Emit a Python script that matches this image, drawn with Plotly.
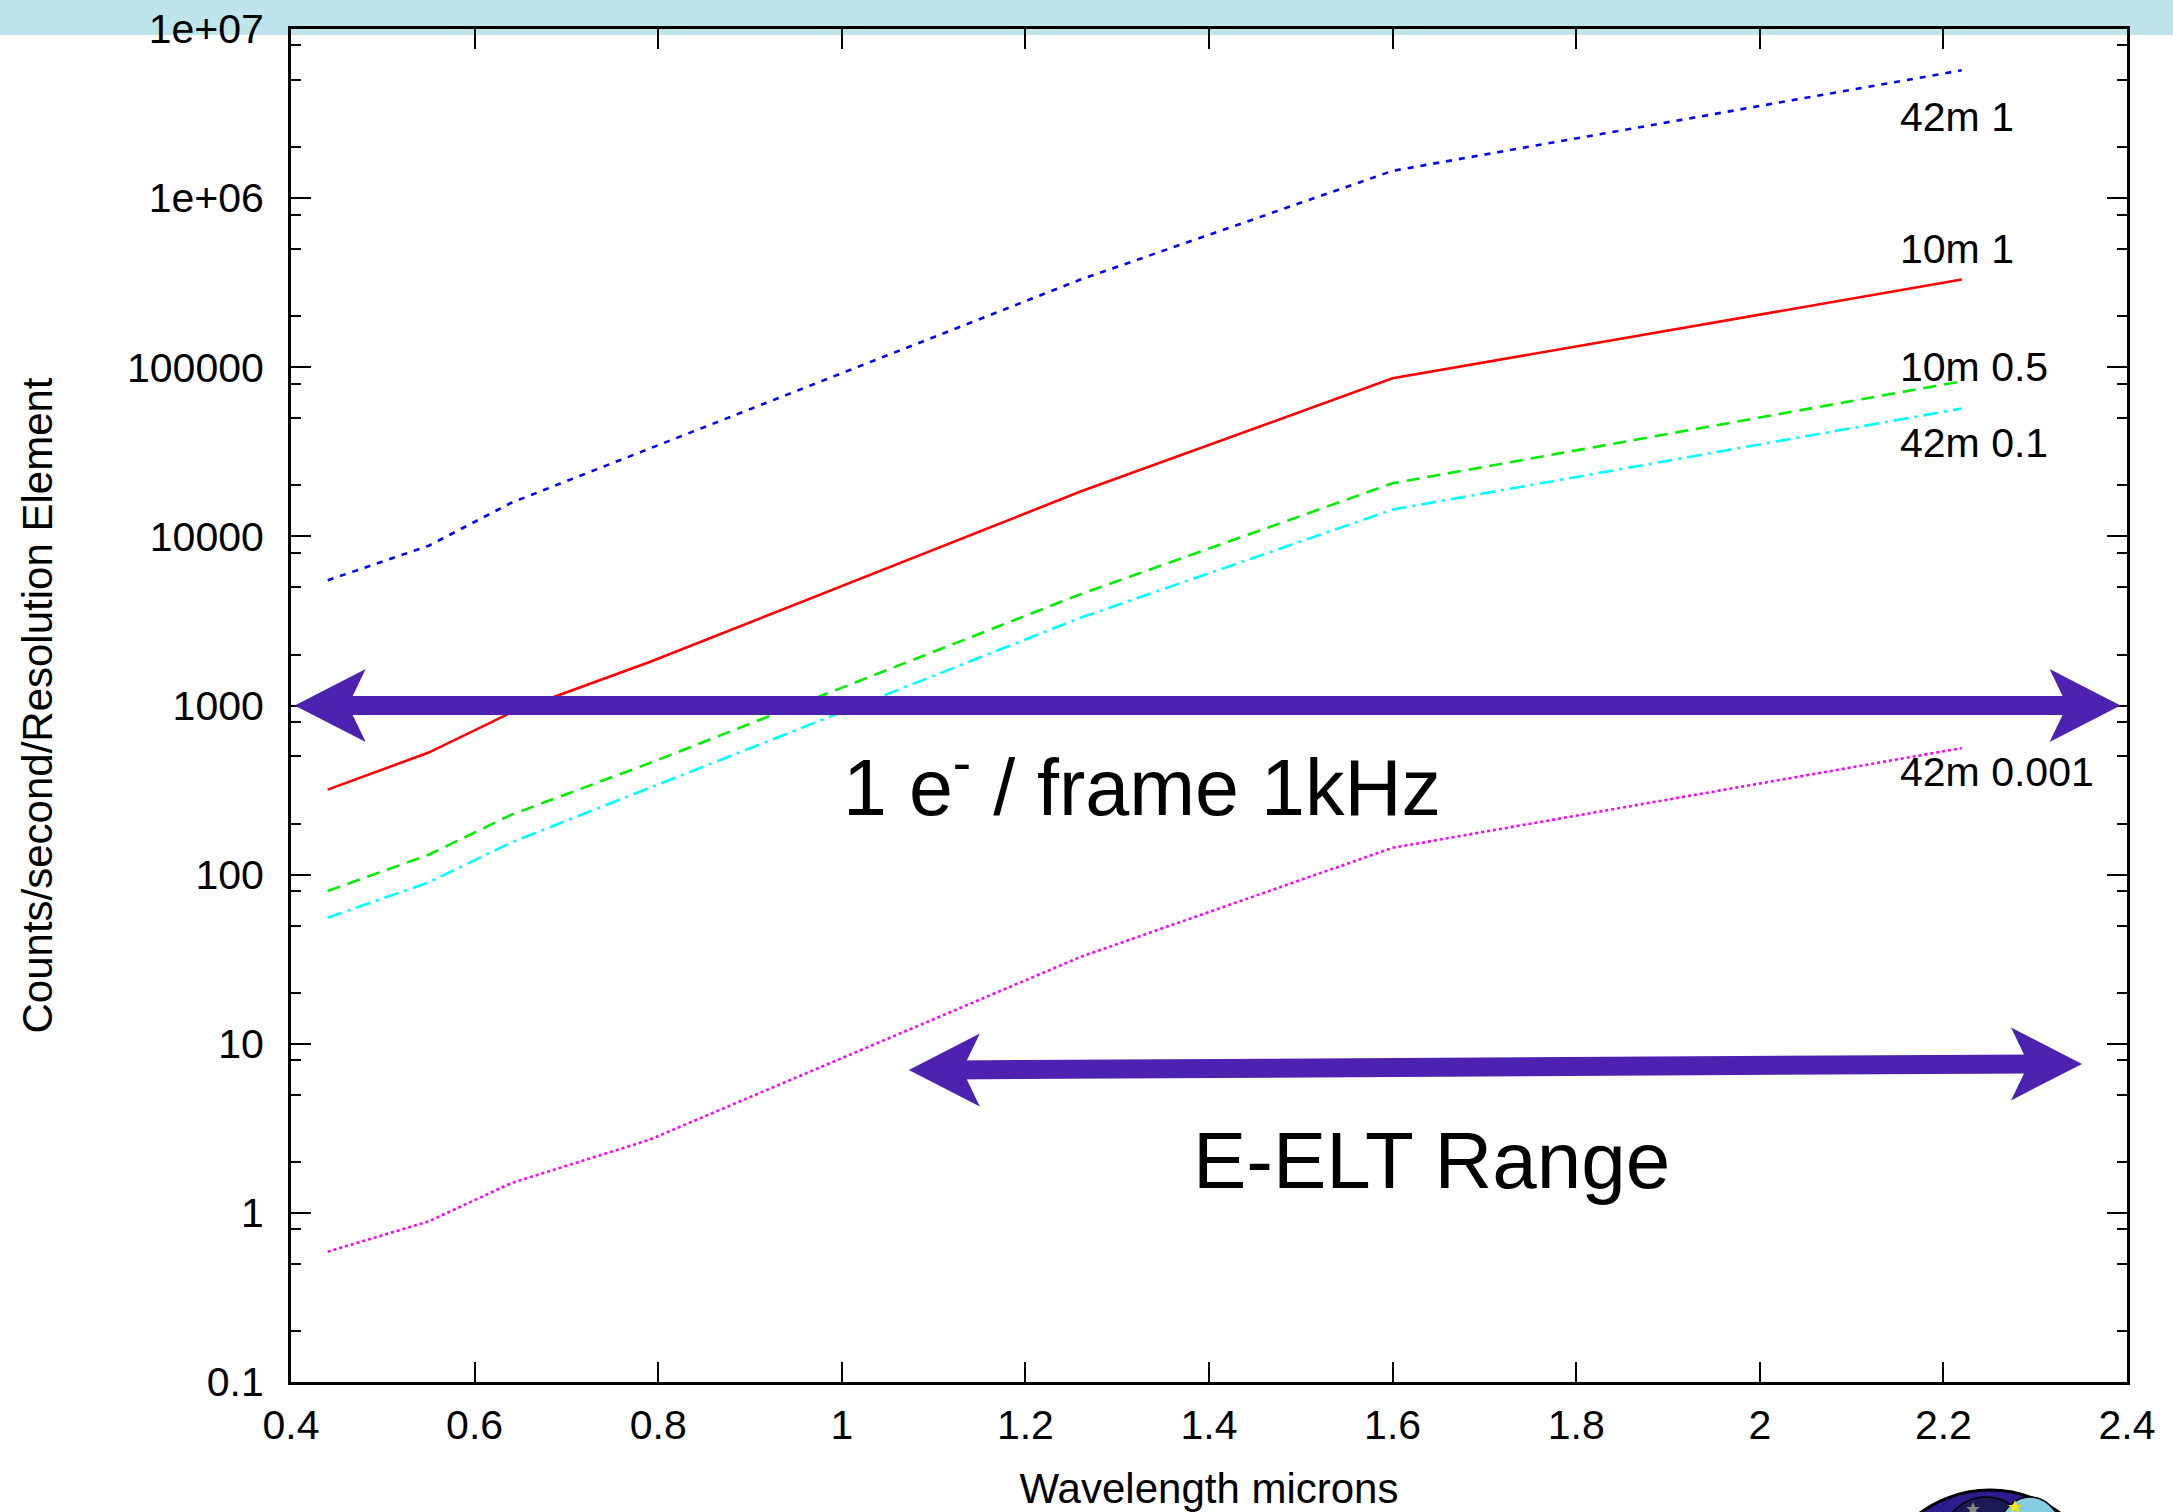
import math
import plotly.graph_objects as go

# ---- data -------------------------------------------------------------
WAVELENGTH_UM = [0.44, 0.55, 0.64, 0.79, 1.26, 1.60, 2.22]

COUNTS_42M_1 = [5500, 8800, 15800, 33000, 330000, 1450000, 5700000]
COUNTS_10M_1 = [318, 527, 910, 1800, 18400, 86000, 330000]
COUNTS_10M_05 = [80, 131, 226, 455, 4550, 20600, 82600]
COUNTS_42M_01 = [55.7, 90, 155, 325, 3300, 14400, 57000]
COUNTS_42M_0001 = [0.59, 0.89, 1.5, 2.7, 32.6, 144, 560]

SERIES_NAMES = ["42m 1", "10m 1", "10m 0.5", "42m 0.1", "42m 0.001"]
LABEL_LEVELS = [3.0e6, 5.0e5, 1.01e5, 3.55e4, 406]   # counts where each tag sits
LABEL_WAVELENGTH = 2.150

X_TICKS = [0.4, 0.6, 0.8, 1.0, 1.2, 1.4, 1.6, 1.8, 2.0, 2.2, 2.4]
X_TICK_TEXT = ["0.4", "0.6", "0.8", "1", "1.2", "1.4", "1.6", "1.8", "2", "2.2", "2.4"]
Y_TICKS = [0.1, 1, 10, 100, 1000, 1e4, 1e5, 1e6, 1e7]
Y_TICK_TEXT = ["0.1", "1", "10", "100", "1000", "10000", "100000", "1e+06", "1e+07"]
Y_MINOR = [m * 10.0 ** k for k in range(-1, 7) for m in (2, 5, 8)]

FRAME_RATE_COUNTS = 1000            # 1 e- per frame read at 1 kHz
FRAME_ARROW_SPAN = [0.404, 2.393]
ELT_RANGE_UM = [1.073, 2.351]
ELT_ARROW_LEVEL = [7.0, 7.6]

# ---- page geometry ----------------------------------------------------
W, H = 2173, 1512
M_L, M_R, M_T, M_B = 291, 46, 29, 130
PLOT_W = W - M_L - M_R
PLOT_H = H - M_T - M_B


def paper_x(px):
    return (px - M_L) / PLOT_W


def paper_y(py):
    return (H - M_B - py) / PLOT_H


FONT = "Liberation Sans, Arial, Helvetica, sans-serif"
ARROW_COLOR = "#4d22b0"

styles = [
    dict(color="#0000ff", dash="6px,7px"),
    dict(color="#ff0000", dash="solid"),
    dict(color="#00ee00", dash="13px,8px"),
    dict(color="#00ffff", dash="15px,6px,3px,6px"),
    dict(color="#ff00ff", dash="3px,3px"),
]
series = [COUNTS_42M_1, COUNTS_10M_1, COUNTS_10M_05, COUNTS_42M_01, COUNTS_42M_0001]

fig = go.Figure()
for name, ys, st in zip(SERIES_NAMES, series, styles):
    fig.add_trace(go.Scatter(
        x=WAVELENGTH_UM, y=ys, mode="lines", name=name,
        line=dict(color=st["color"], dash=st["dash"], width=2.6),
        showlegend=False, hoverinfo="skip",
    ))

annotations = []
for name, lvl in zip(SERIES_NAMES, LABEL_LEVELS):
    annotations.append(dict(
        x=LABEL_WAVELENGTH, y=math.log10(lvl), xref="x", yref="y",
        text=name, showarrow=False, xanchor="left", yanchor="middle",
        font=dict(family=FONT, size=41, color="black"),
    ))

annotations.append(dict(
    x=1.327, y=2.548, xref="x", yref="y",
    text="1 e<sup>-</sup> / frame 1kHz", showarrow=False,
    xanchor="center", yanchor="middle",
    font=dict(family=FONT, size=79, color="black"),
))
annotations.append(dict(
    x=1.642, y=0.308, xref="x", yref="y",
    text="E-ELT Range", showarrow=False,
    xanchor="center", yanchor="middle",
    font=dict(family=FONT, size=80, color="black"),
))

# ---- double-headed arrows ---------------------------------------------
HEAD_LEFT = "M0,0 L71,36.5 L58,9.5 L58,-9.5 L71,-36.5 Z"
HEAD_RIGHT = "M0,0 L-71,36.5 L-58,9.5 L-58,-9.5 L-71,-36.5 Z"


def double_arrow(x0, x1, y0, y1):
    inset = 0.05
    return [
        dict(type="line", xref="x", yref="y", x0=x0 + inset, x1=x1 - inset,
             y0=y0, y1=y1, line=dict(color=ARROW_COLOR, width=19)),
        dict(type="path", xref="x", yref="y", xsizemode="pixel", ysizemode="pixel",
             xanchor=x0, yanchor=y0, path=HEAD_LEFT,
             fillcolor=ARROW_COLOR, line=dict(width=0)),
        dict(type="path", xref="x", yref="y", xsizemode="pixel", ysizemode="pixel",
             xanchor=x1, yanchor=y1, path=HEAD_RIGHT,
             fillcolor=ARROW_COLOR, line=dict(width=0)),
    ]


shapes = []
# light-blue header band across the top of the page
shapes.append(dict(type="rect", xref="paper", yref="paper", layer="below",
                   x0=paper_x(0), x1=paper_x(W), y0=paper_y(35), y1=paper_y(0),
                   fillcolor="#bfe5ec", line=dict(width=0)))
shapes += double_arrow(FRAME_ARROW_SPAN[0], FRAME_ARROW_SPAN[1],
                       FRAME_RATE_COUNTS, FRAME_RATE_COUNTS)
shapes += double_arrow(ELT_RANGE_UM[0], ELT_RANGE_UM[1],
                       ELT_ARROW_LEVEL[0], ELT_ARROW_LEVEL[1])

# badge peeking in at the bottom-right corner
cx, cy, r = 1990, 1608, 118
shapes.append(dict(type="circle", xref="paper", yref="paper",
                   x0=paper_x(cx - r), x1=paper_x(cx + r),
                   y0=paper_y(cy + r), y1=paper_y(cy - r),
                   fillcolor="#2b1c8f", line=dict(color="black", width=3)))
shapes.append(dict(type="circle", xref="paper", yref="paper",
                   x0=paper_x(1932), x1=paper_x(2040),
                   y0=paper_y(1640), y1=paper_y(1497),
                   fillcolor="#1b1a55", line=dict(color="black", width=1.5)))
shapes.append(dict(type="circle", xref="paper", yref="paper",
                   x0=paper_x(1988), x1=paper_x(2072),
                   y0=paper_y(1640), y1=paper_y(1497),
                   fillcolor="#86cde3", line=dict(color="black", width=1.5)))
STAR = "M0,7 L2,2 L7,2 L3,-1 L4.5,-6 L0,-3 L-4.5,-6 L-3,-1 L-7,2 L-2,2 Z"
for sx, sy, col in [(1973, 1509, "#8a8a7a"), (2015, 1507, "#ffe600")]:
    shapes.append(dict(type="path", xref="paper", yref="paper",
                       xsizemode="pixel", ysizemode="pixel",
                       xanchor=paper_x(sx), yanchor=paper_y(sy), path=STAR,
                       fillcolor=col, line=dict(width=0)))

axis_common = dict(
    showline=True, linecolor="black", linewidth=3, mirror="allticks",
    ticks="inside", ticklen=20, tickwidth=2, tickcolor="black",
    showgrid=False, zeroline=False,
    tickfont=dict(family=FONT, size=41, color="black"),
)

fig.update_layout(
    width=W, height=H,
    margin=dict(l=M_L, r=M_R, t=M_T, b=M_B, autoexpand=False),
    paper_bgcolor="white", plot_bgcolor="rgba(0,0,0,0)",
    xaxis=dict(
        range=[0.4, 2.4], tickmode="array", tickvals=X_TICKS, ticktext=X_TICK_TEXT,
        ticklabelstandoff=5,
        title=dict(text="Wavelength microns", standoff=30,
                   font=dict(family=FONT, size=42, color="black")),
        **axis_common,
    ),
    yaxis=dict(
        type="log", range=[-1, 7], tickmode="array", tickvals=Y_TICKS, ticktext=Y_TICK_TEXT,
        ticklabelstandoff=16,
        minor=dict(tickmode="array", tickvals=Y_MINOR, ticks="inside", ticklen=10,
                   tickwidth=2, tickcolor="black", showgrid=False),
        title=dict(text="Counts/second/Resolution Element", standoff=62,
                   font=dict(family=FONT, size=42, color="black")),
        **axis_common,
    ),
    annotations=annotations,
    shapes=shapes,
)

fig.write_html("out.html")
